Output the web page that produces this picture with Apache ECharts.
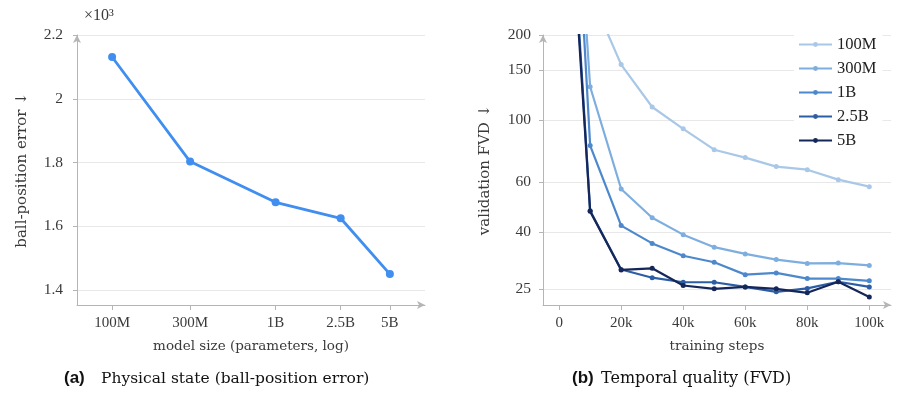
<!DOCTYPE html>
<html>
<head>
<meta charset="utf-8">
<script src="https://cdn.jsdelivr.net/npm/echarts@6/dist/echarts.min.js"></script>
<style>
  html, body { margin: 0; padding: 0; background: #fff; }
  #main { width: 900px; height: 405px; }
</style>
</head>
<body>
<div id="main"></div>
<script>
// (a) model size vs ball-position error (x10^3)
var sizeVals = [100, 300, 1000, 2500, 5000];          // millions of params
var sizeLabels = ['100M', '300M', '1B', '2.5B', '5B'];
var ballErr = [2.131, 1.803, 1.675, 1.625, 1.450];
var errTicks = [1.4, 1.6, 1.8, 2.0, 2.2];

// (b) training steps vs validation FVD
var steps = [0, 10000, 20000, 30000, 40000, 50000, 60000, 70000, 80000, 90000, 100000];
var stepTicks = [0, 20000, 40000, 60000, 80000, 100000];
var fvdTicks = [25, 40, 60, 100, 150, 200];
var modelNames = ['100M', '300M', '1B', '2.5B', '5B'];
var fvd100M = [1500, 281, 157, 111, 92.9, 78.3, 73.4, 68.2, 66.5, 61.3, 57.9];
var fvd300M = [6000, 131, 56.8, 44.9, 39.1, 35.3, 33.4, 31.9, 30.9, 31.0, 30.4];
var fvd1B   = [8000, 81, 42.1, 36.4, 32.9, 31.2, 28.2, 28.6, 27.3, 27.3, 26.8];
var fvd25B  = [3000, 47.5, 29.4, 27.5, 26.5, 26.5, 25.5, 24.5, 25.2, 26.6, 25.5];
var fvd5B   = [2500, 47.3, 29.3, 29.7, 25.8, 25.1, 25.5, 25.1, 24.3, 26.6, 23.5];

var colors = ['#a9c8e8', '#7eaedf', '#4d88cc', '#2c5ea6', '#15275a'];

var serif = 'Liberation Serif';
var wideSerif = 'DejaVu Serif';
var axisGray = '#b5b5b5';
var textCol = '#3a3a3a';

function pairs(xs, ys) {
	var out = [];
	for (var i = 0; i < xs.length; i++) out.push([xs[i], ys[i]]);
	return out;
}

var fvdData = [fvd100M, fvd300M, fvd1B, fvd25B, fvd5B];
var fvdSeries = [];
for (var k = 0; k < modelNames.length; k++) {
	fvdSeries.push({
		name : modelNames[k],
		type : 'line',
		xAxisIndex : 1,
		yAxisIndex : 1,
		symbol : 'circle',
		symbolSize : 5,
		clip : true,
		lineStyle : { color : colors[k], width : 2.2 },
		itemStyle : { color : colors[k] },
		z : 2 + k,
		data : pairs(steps, fvdData[k])
	});
}

var chart = echarts.init(document.getElementById('main'));

var option = {
	animation : false,
	textStyle : { fontFamily : serif },
	grid : [
		{ left : 77, top : 35, width : 348, height : 270 },
		{ left : 543, top : 35, width : 348, height : 270 }
	],
	legend : {
		data : modelNames,
		orient : 'vertical',
		left : 794,
		top : 33,
		itemWidth : 33,
		itemHeight : 6,
		itemGap : 7,
		padding : [3, 6, 3, 4],
		backgroundColor : '#fff',
		textStyle : { fontFamily : serif, fontSize : 16.5, color : '#222' }
	},
	xAxis : [ {
		gridIndex : 0,
		type : 'log',
		min : 61,
		max : 8200,
		name : 'model size (parameters, log)',
		nameLocation : 'middle',
		nameGap : 34,
		nameTextStyle : { fontFamily : wideSerif, fontSize : 13.5, color : textCol },
		axisLine : { lineStyle : { color : axisGray }, symbol : ['none', 'arrow'], symbolSize : [6, 8] },
		axisTick : { show : true, length : 5, customValues : sizeVals, lineStyle : { color : axisGray } },
		axisLabel : {
			customValues : sizeVals,
			margin : 11,
			fontSize : 15,
			color : textCol,
			formatter : function (v) { return sizeLabels[sizeVals.indexOf(v)]; }
		},
		splitLine : { show : false }
	}, {
		gridIndex : 1,
		type : 'value',
		min : -5200,
		max : 107000,
		name : 'training steps',
		nameLocation : 'middle',
		nameGap : 34,
		nameTextStyle : { fontFamily : wideSerif, fontSize : 13.5, color : textCol },
		axisLine : { onZero : false, lineStyle : { color : axisGray }, symbol : ['none', 'arrow'], symbolSize : [6, 8] },
		axisTick : { show : true, length : 5, customValues : stepTicks, lineStyle : { color : axisGray } },
		axisLabel : {
			customValues : stepTicks,
			margin : 11,
			fontSize : 15,
			color : textCol,
			formatter : function (v) { return v === 0 ? '0' : (v / 1000) + 'k'; }
		},
		splitLine : { show : false }
	} ],
	yAxis : [ {
		gridIndex : 0,
		type : 'value',
		min : 1.353,
		max : 2.2,
		name : 'ball-position error \u2193',
		nameLocation : 'middle',
		nameRotate : 90,
		nameGap : 47,
		nameTextStyle : { fontFamily : wideSerif, fontSize : 15, color : textCol },
		axisLine : { show : true, onZero : false, lineStyle : { color : axisGray }, symbol : ['none', 'arrow'], symbolSize : [6, 8] },
		axisTick : { show : true, length : 4, customValues : errTicks, lineStyle : { color : axisGray } },
		axisLabel : {
			customValues : errTicks,
			margin : 14,
			fontSize : 15.5,
			color : textCol,
			formatter : function (v) { return String(Math.round(v * 10) / 10); }
		},
		splitLine : { show : true, lineStyle : { color : '#e8e8e8', width : 1 } }
	}, {
		gridIndex : 1,
		type : 'log',
		min : 22,
		max : 200,
		name : 'validation FVD \u2193',
		nameLocation : 'middle',
		nameRotate : 90,
		nameGap : 50,
		nameTextStyle : { fontFamily : wideSerif, fontSize : 15, color : textCol },
		axisLine : { show : true, onZero : false, lineStyle : { color : axisGray }, symbol : ['none', 'arrow'], symbolSize : [6, 8] },
		axisTick : { show : true, length : 4, customValues : fvdTicks, lineStyle : { color : axisGray } },
		axisLabel : {
			customValues : fvdTicks,
			margin : 12,
			fontSize : 15.5,
			color : textCol
		},
		splitLine : { show : true, lineStyle : { color : '#e8e8e8', width : 1 } }
	} ],
	graphic : [
		{ type : 'text', left : 84, top : 8, style : { text : '\u00d710\u00b3', fontFamily : serif, fontSize : 16, fill : textCol } },
		{ type : 'text', left : 64, top : 370, style : { text : '(a)', fontFamily : 'Liberation Sans', fontWeight : 'bold', fontSize : 17, fill : '#111' } },
		{ type : 'text', left : 101, top : 371, style : { text : 'Physical state (ball-position error)', fontFamily : wideSerif, fontSize : 15.5, fill : '#111' } },
		{ type : 'text', left : 572, top : 370, style : { text : '(b)', fontFamily : 'Liberation Sans', fontWeight : 'bold', fontSize : 17, fill : '#111' } },
		{ type : 'text', left : 601, top : 371, style : { text : 'Temporal quality (FVD)', fontFamily : wideSerif, fontSize : 16, fill : '#111' } }
	],
	series : [ {
		name : 'ball-position error',
		type : 'line',
		xAxisIndex : 0,
		yAxisIndex : 0,
		symbol : 'circle',
		symbolSize : 8,
		lineStyle : { color : '#3f8ef0', width : 2.8 },
		itemStyle : { color : '#3f8ef0' },
		data : pairs(sizeVals, ballErr)
	} ].concat(fvdSeries)
};

chart.setOption(option);
</script>
</body>
</html>
